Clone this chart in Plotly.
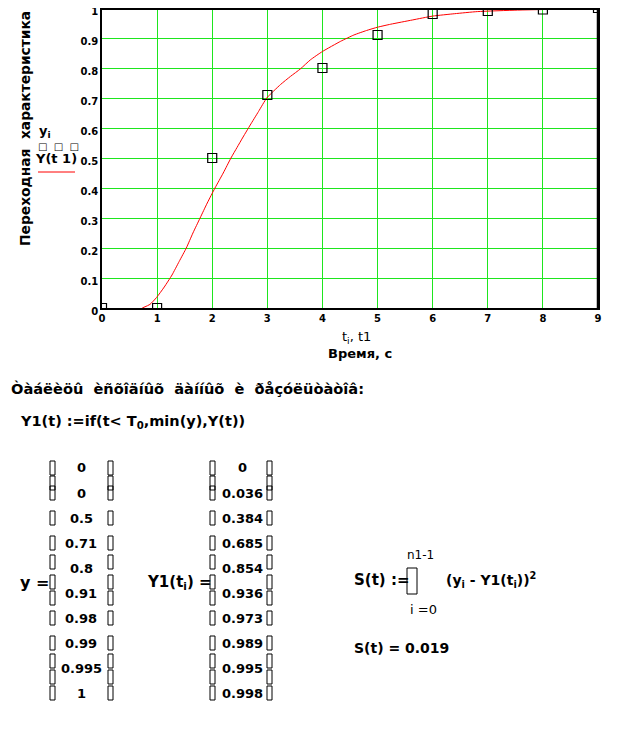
import plotly.graph_objects as go

# ---------------- data ----------------
t_data = [0, 1, 2, 3, 4, 5, 6, 7, 8, 9]
y_data = [0, 0, 0.5, 0.71, 0.8, 0.91, 0.98, 0.99, 0.995, 1]

t_curve = [0.73, 0.87, 0.99, 1.13, 1.27, 1.40, 1.53, 1.65, 1.78, 1.91, 2.05, 2.20,
           2.34, 2.45, 2.56, 2.69, 2.84, 2.99, 3.24, 3.42, 3.60, 3.78, 4.00, 4.33,
           4.57, 4.80, 5.00, 5.24, 5.63, 6.00, 6.40, 6.81, 7.54, 8.33]
y_curve = [0, 0.012, 0.035, 0.07, 0.11, 0.155, 0.2, 0.25, 0.3, 0.35, 0.4, 0.45,
           0.5, 0.535, 0.57, 0.61, 0.655, 0.7, 0.745, 0.772, 0.797, 0.827, 0.855, 0.889,
           0.91, 0.925, 0.936, 0.946, 0.96, 0.973, 0.981, 0.988, 0.993, 0.996]

y1_table = ["0", "0.036", "0.384", "0.685", "0.854", "0.936", "0.973", "0.989", "0.995", "0.998"]
y_table = ["0", "0", "0.5", "0.71", "0.8", "0.91", "0.98", "0.99", "0.995", "1"]

x_ticks = [0, 1, 2, 3, 4, 5, 6, 7, 8, 9]
y_ticks = [0, 0.1, 0.2, 0.3, 0.4, 0.5, 0.6, 0.7, 0.8, 0.9, 1]
y_ticktext = ["0", "0.1", "0.2", "0.3", "0.4", "0.5", "0.6", "0.7", "0.8", "0.9", "1"]

S_value = "0.019"

# ---------------- geometry helpers (page pixel -> paper) ----------------
# the browser puts the figure 8px in from the top-left corner (default body margin)
OFF = 8
W, H = 638 - OFF, 732 - OFF
L, R, T, B = 102, 598, 8, 308   # plot area in page pixels


def px(x):
    return (x - L) / (R - L)


def py(y):
    return (B - y) / (B - T)


FONT = "DejaVu Sans"
GREEN = "#1ee61e"

fig = go.Figure()

fig.add_trace(go.Scatter(
    x=t_curve, y=y_curve, mode="lines",
    line=dict(color="red", width=1, shape="spline", smoothing=0.5),
    showlegend=False, hoverinfo="skip"))

fig.add_trace(go.Scatter(
    x=t_data, y=y_data, mode="markers",
    marker=dict(symbol="square-open", size=9, color="black", line=dict(width=1.2, color="black")),
    showlegend=False))

ann = []


def text(x, y, s, size=14, bold=True, anchor="left", color="black", angle=0, family=FONT):
    ann.append(dict(
        x=px(x), y=py(y), xref="paper", yref="paper", text=s, showarrow=False,
        xanchor=anchor, yanchor="middle", textangle=angle,
        font=dict(family=family, size=size, color=color, weight="bold" if bold else "normal")))


# axis titles
text(25, 129, "Переходная  характеристика", size=13.8, anchor="center", angle=-90)
text(356, 337, "t<sub>i</sub>, t1", size=13, bold=False, anchor="center")
text(360, 353, "Время, с", size=13, anchor="center")

# legend
text(45, 131, "y<sub>i</sub>", size=13, anchor="center")
text(58, 146, "□  □  □", size=10, bold=False, anchor="center")
text(56, 158, "Y(t 1)", size=13, anchor="center")

shapes = [dict(type="line", xref="paper", yref="paper",
               x0=px(38), x1=px(75), y0=py(172), y1=py(172),
               line=dict(color="red", width=1)),
          dict(type="line", xref="paper", yref="paper",
               x0=1, x1=1, y0=0, y1=1, line=dict(color="black", width=2.5)),
          dict(type="line", xref="paper", yref="paper",
               x0=0, x1=1, y0=py(9), y1=py(9), line=dict(color="black", width=2))]

# text block under the chart
text(9, 388, "Òàáëèöû  èñõîäíûõ  äàííûõ  è  ðåçóëüòàòîâ:", size=14.6, bold=True)
text(18, 422, "Y1(t) :=if(t< T<sub>0</sub>,min(y),Y(t))", size=14.5)

text(18, 582, "y =", size=16)
text(145, 582, "Y1(t<sub>i</sub>) =", size=15)

row_y = [468 + 25 * k for k in range(len(y_table))]
for ry, v in zip(row_y, y_table):
    text(81, ry, v, size=13, anchor="center")
for ry, v in zip(row_y, y1_table):
    text(242, ry, v, size=13, anchor="center")

box_y = [468, 483, 493, 518, 543, 562, 582, 598, 618, 643, 661, 677, 693]
for bx in (50, 108, 210, 267):
    for by in box_y:
        shapes.append(dict(type="rect", xref="paper", yref="paper",
                           x0=px(bx), x1=px(bx + 5), y0=py(by + 7), y1=py(by - 7),
                           line=dict(color="black", width=1), fillcolor="rgba(0,0,0,0)"))

# sum formula
text(352, 580, "S(t) :=", size=15)
shapes.append(dict(type="rect", xref="paper", yref="paper",
                   x0=px(407), x1=px(417), y0=py(594), y1=py(568),
                   line=dict(color="black", width=1), fillcolor="rgba(0,0,0,0)"))
text(405, 555, "n1-1", size=12, bold=False)
text(444, 580, "(y<sub>i</sub> - Y1(t<sub>i</sub>))<sup>2</sup>", size=14)
text(408, 609, "i =0", size=13, bold=False)
text(352, 648, "S(t) = " + S_value, size=14)

fig.update_layout(
    width=W, height=H, autosize=False,
    margin=dict(l=L - OFF, r=W - (R - OFF), t=T - OFF, b=H - (B - OFF), pad=0,
                autoexpand=False),
    paper_bgcolor="white", plot_bgcolor="white",
    annotations=ann, shapes=shapes,
    xaxis=dict(range=[0, 9], tickvals=x_ticks, showgrid=True, gridcolor=GREEN, gridwidth=1,
               zeroline=False, showline=True, linecolor="black", linewidth=1.5, mirror=True,
               ticks="", ticklen=0, ticklabeloverflow="allow", automargin=False,
               tickfont=dict(family=FONT, size=10, color="black", weight="bold")),
    yaxis=dict(range=[0, 1], tickvals=y_ticks, ticktext=y_ticktext, showgrid=True,
               gridcolor=GREEN, gridwidth=1, zeroline=False, showline=True, linecolor="black",
               linewidth=1.5, mirror=True, ticks="", ticklen=0, automargin=False,
               ticklabeloverflow="allow", ticklabelshift=3,
               tickfont=dict(family=FONT, size=10, color="black", weight="bold")),
)

fig.write_html("out.html")
